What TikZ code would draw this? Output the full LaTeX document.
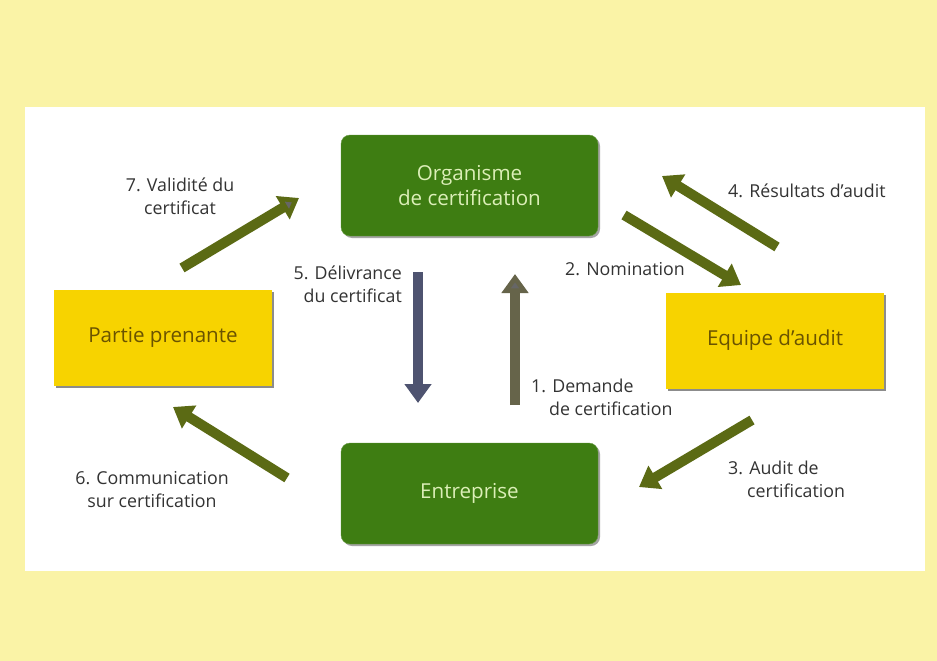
\documentclass[tikz,border=0pt]{standalone}
\usepackage{fontspec}
\setmainfont{Open Sans}
\usetikzlibrary{positioning,arrows.meta,shadows}

\definecolor{bgyellow}{HTML}{FAF3A6}
\definecolor{boxgreen}{HTML}{3E7D12}
\definecolor{greentext}{HTML}{DCEFB8}
\definecolor{boxyellow}{HTML}{F7D300}
\definecolor{yellowtext}{HTML}{6A5300}
\definecolor{olive}{HTML}{5B6A14}
\definecolor{slate}{HTML}{4E5370}
\definecolor{greyolive}{HTML}{66644A}
\definecolor{labelgrey}{HTML}{333333}

\begin{document}
\begin{tikzpicture}[x=1pt,y=-1pt,
  greenbox/.style={draw=boxgreen!80!white,fill=boxgreen,rounded corners=9pt,
    minimum width=257pt,minimum height=101pt,text=greentext,align=center,
    font=\fontsize{20.6}{25}\selectfont,
    drop shadow={shadow xshift=2pt,shadow yshift=-2pt,fill=black!70,opacity=0.5}},
  yellowbox/.style={fill=boxyellow,minimum width=218pt,minimum height=96pt,
    text=yellowtext,font=\fontsize{20.6}{25}\selectfont,
    drop shadow={shadow xshift=2pt,shadow yshift=-2pt,fill=black!75,opacity=0.6}},
  lab/.style={inner sep=0pt,text=labelgrey,font=\fontsize{17.8}{23}\selectfont},
  fat/.style={line width=10pt,draw=olive,-{Triangle[width=26pt,length=19pt,fill=#1]}},
  fat/.default=olive]
\useasboundingbox (0,0) rectangle (937,661);
\fill[bgyellow] (0,0) rectangle (937,661);
\fill[white] (25,107) rectangle (925,571);

% boxes
\node[greenbox] (org) at (469.5,185.5) {Organisme\\de certification};
\node[greenbox] (ent) at (469.5,493.5) {Entreprise};
\node[yellowbox] (pp) at (163,337.5) {Partie prenante};
\node[yellowbox] (eq) at (775,340.5) {Equipe d'audit};

% arrow ends
\coordinate (s1) at (515,405);
\coordinate (e1) at (515,274);
\coordinate (s2) at (624,215);
\coordinate (e2) at (741,285);
\coordinate (s3) at (752,420);
\coordinate (e3) at (639,487);
\coordinate (s4) at (777,247);
\coordinate (e4) at (662,176);
\coordinate (s5) at (418,272);
\coordinate (e5) at (418,403);
\coordinate (s6) at (287,478);
\coordinate (e6) at (173,407);
\coordinate (s7) at (182,268);
\coordinate (e7) at (299,198);

\draw[fat=black!60,draw=greyolive] (s1) -- (e1);
\draw[fat] (s2) -- (e2);
\draw[fat] (s3) -- (e3);
\draw[fat] (s4) -- (e4);
\draw[fat=slate,draw=slate] (s5) -- (e5);
\draw[fat] (s6) -- (e6);
\draw[fat=black!60] (s7) -- (e7);

% labels
\node[lab,align=left,anchor=west] (l1) at (531,397) {1. Demande\\\hspace*{18pt}de certification};
\node[lab,anchor=west] (l2) at (565,269) {2. Nomination};
\node[lab,align=left,anchor=west] (l3) at (728,479) {3. Audit de\\\hspace*{19pt}certification};
\node[lab,anchor=west] (l4) at (728,191) {4. Résultats d'audit};
\node[lab,align=right,anchor=east] (l5) at (402,284) {5. Délivrance\\du certificat};
\node[lab,align=center] (l6) at (152,490) {6. Communication\\sur certification};
\node[lab,align=center] (l7) at (180,196) {7. Validité du\\certificat};
\end{tikzpicture}
\end{document}
